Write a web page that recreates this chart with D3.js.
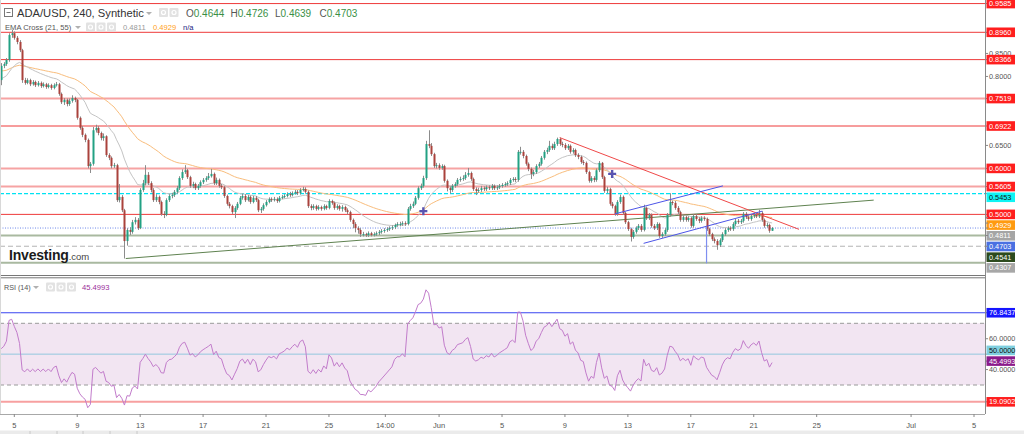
<!DOCTYPE html>
<html><head><meta charset="utf-8">
<script src="https://cdn.jsdelivr.net/npm/d3@7"></script>
<style>
html,body{margin:0;padding:0;background:#fff;}
svg{display:block;font-family:"Liberation Sans",Arial,sans-serif;}
</style></head><body>
<svg id="c" width="1024" height="434"></svg>
<script>
// ================= DATA =================
const symbolTitle = "ADA/USD, 240, Synthetic";
const firstCandleTime = "2022-05-04T04:00";
const candleHours = 4;
const firstOpen = 0.792;
const close = [
0.823,0.827,0.836,0.890,0.894,0.884,0.875,0.857,0.792,0.786,
0.792,0.783,0.788,0.781,0.786,0.779,0.783,0.777,0.781,0.775,
0.781,0.783,0.762,0.744,0.749,0.740,0.747,0.753,0.749,0.710,
0.688,0.673,0.662,0.605,0.610,0.683,0.688,0.677,0.666,0.670,
0.629,0.623,0.605,0.607,0.531,0.538,0.509,0.442,0.466,0.462,
0.483,0.488,0.470,0.553,0.568,0.586,0.568,0.553,0.531,0.538,
0.527,0.501,0.499,0.531,0.540,0.542,0.549,0.557,0.579,0.592,
0.596,0.581,0.562,0.566,0.557,0.562,0.570,0.575,0.579,0.583,
0.588,0.568,0.575,0.562,0.559,0.540,0.523,0.518,0.505,0.514,
0.523,0.536,0.540,0.531,0.538,0.527,0.536,0.531,0.509,0.512,
0.520,0.527,0.533,0.531,0.533,0.529,0.536,0.538,0.540,0.544,
0.542,0.546,0.549,0.546,0.553,0.555,0.549,0.518,0.514,0.518,
0.512,0.516,0.512,0.518,0.514,0.529,0.525,0.514,0.518,0.512,
0.516,0.509,0.505,0.488,0.479,0.470,0.466,0.457,0.457,0.455,
0.459,0.455,0.457,0.459,0.462,0.464,0.466,0.468,0.470,0.472,
0.477,0.479,0.479,0.481,0.479,0.512,0.518,0.523,0.536,0.557,
0.562,0.579,0.653,0.649,0.631,0.605,0.607,0.601,0.605,0.573,
0.557,0.553,0.562,0.566,0.575,0.577,0.579,0.586,0.590,0.577,
0.555,0.551,0.553,0.557,0.555,0.559,0.557,0.562,0.557,0.559,
0.562,0.564,0.566,0.568,0.575,0.577,0.575,0.636,0.636,0.627,
0.610,0.599,0.588,0.592,0.605,0.610,0.623,0.636,0.640,0.649,
0.644,0.653,0.664,0.653,0.651,0.644,0.649,0.636,0.640,0.629,
0.625,0.614,0.612,0.592,0.573,0.579,0.575,0.596,0.612,0.581,
0.551,0.555,0.523,0.518,0.501,0.527,0.538,0.503,0.483,0.468,
0.451,0.462,0.470,0.475,0.466,0.514,0.492,0.499,0.475,0.470,
0.479,0.453,0.457,0.466,0.499,0.527,0.525,0.514,0.505,0.488,
0.494,0.488,0.492,0.475,0.496,0.490,0.486,0.492,0.490,0.468,
0.457,0.446,0.442,0.433,0.444,0.457,0.466,0.470,0.468,0.479,
0.486,0.483,0.486,0.501,0.494,0.490,0.496,0.499,0.496,0.503,
0.488,0.475,0.477,0.4644,0.4703];
const high = [
0.829,0.831,0.840,0.894,0.901,0.898,0.888,0.879,0.860,0.797,
0.796,0.795,0.792,0.791,0.790,0.789,0.787,0.786,0.785,0.784,
0.785,0.788,0.786,0.765,0.753,0.752,0.752,0.759,0.756,0.751,
0.713,0.692,0.676,0.665,0.614,0.690,0.695,0.692,0.680,0.676,
0.672,0.633,0.626,0.612,0.610,0.566,0.542,0.512,0.470,0.472,
0.488,0.494,0.492,0.557,0.575,0.607,0.592,0.572,0.557,0.544,
0.541,0.530,0.507,0.535,0.544,0.547,0.553,0.562,0.583,0.598,
0.607,0.599,0.584,0.571,0.569,0.566,0.574,0.579,0.583,0.590,
0.599,0.591,0.580,0.578,0.566,0.562,0.543,0.527,0.521,0.518,
0.527,0.540,0.545,0.544,0.542,0.541,0.540,0.540,0.534,0.516,
0.524,0.531,0.537,0.537,0.538,0.537,0.540,0.542,0.544,0.548,
0.549,0.550,0.553,0.553,0.557,0.560,0.559,0.552,0.522,0.522,
0.521,0.520,0.519,0.522,0.521,0.533,0.532,0.528,0.522,0.521,
0.520,0.519,0.513,0.508,0.491,0.483,0.474,0.470,0.462,0.460,
0.463,0.462,0.461,0.463,0.466,0.468,0.470,0.472,0.474,0.476,
0.480,0.483,0.484,0.485,0.485,0.516,0.523,0.528,0.540,0.561,
0.567,0.584,0.660,0.683,0.655,0.634,0.612,0.611,0.609,0.608,
0.576,0.561,0.566,0.570,0.579,0.582,0.585,0.592,0.601,0.593,
0.580,0.559,0.558,0.562,0.561,0.563,0.563,0.566,0.565,0.563,
0.566,0.568,0.570,0.572,0.579,0.581,0.581,0.640,0.647,0.640,
0.630,0.613,0.602,0.597,0.609,0.614,0.627,0.640,0.645,0.660,
0.654,0.658,0.667,0.667,0.658,0.655,0.653,0.652,0.644,0.643,
0.633,0.628,0.618,0.615,0.595,0.583,0.583,0.600,0.616,0.614,
0.584,0.560,0.558,0.527,0.521,0.531,0.543,0.541,0.506,0.486,
0.471,0.466,0.474,0.479,0.479,0.521,0.517,0.503,0.502,0.479,
0.483,0.482,0.461,0.470,0.503,0.546,0.530,0.529,0.518,0.508,
0.498,0.497,0.496,0.495,0.500,0.500,0.494,0.496,0.496,0.493,
0.471,0.460,0.450,0.446,0.448,0.461,0.470,0.474,0.474,0.483,
0.490,0.490,0.490,0.505,0.505,0.498,0.500,0.503,0.503,0.510,
0.507,0.491,0.482,0.480,0.4726];
const low = [
0.781,0.818,0.823,0.832,0.884,0.880,0.870,0.853,0.786,0.782,
0.783,0.779,0.780,0.777,0.778,0.775,0.776,0.773,0.774,0.771,
0.772,0.778,0.758,0.740,0.738,0.735,0.736,0.743,0.744,0.706,
0.684,0.668,0.657,0.600,0.590,0.606,0.678,0.672,0.661,0.660,
0.625,0.618,0.600,0.601,0.527,0.526,0.505,0.404,0.432,0.455,
0.458,0.478,0.466,0.468,0.549,0.563,0.564,0.548,0.527,0.527,
0.522,0.497,0.492,0.496,0.527,0.535,0.538,0.545,0.553,0.575,
0.588,0.577,0.558,0.557,0.553,0.553,0.558,0.566,0.571,0.575,
0.580,0.564,0.564,0.558,0.555,0.536,0.519,0.513,0.501,0.492,
0.510,0.520,0.532,0.527,0.528,0.523,0.524,0.527,0.505,0.503,
0.508,0.517,0.524,0.527,0.528,0.525,0.526,0.533,0.535,0.537,
0.538,0.539,0.543,0.542,0.543,0.550,0.545,0.514,0.509,0.510,
0.508,0.509,0.508,0.509,0.510,0.511,0.521,0.510,0.510,0.508,
0.506,0.505,0.500,0.484,0.470,0.461,0.458,0.451,0.452,0.451,
0.451,0.452,0.452,0.453,0.455,0.458,0.460,0.462,0.464,0.466,
0.468,0.473,0.474,0.475,0.475,0.476,0.508,0.514,0.520,0.532,
0.553,0.558,0.575,0.644,0.627,0.601,0.600,0.597,0.597,0.569,
0.550,0.545,0.549,0.558,0.562,0.571,0.573,0.575,0.582,0.573,
0.551,0.542,0.547,0.549,0.551,0.551,0.553,0.553,0.553,0.553,
0.555,0.558,0.560,0.562,0.564,0.571,0.570,0.571,0.630,0.622,
0.606,0.594,0.577,0.583,0.588,0.601,0.606,0.619,0.631,0.636,
0.640,0.640,0.649,0.649,0.646,0.640,0.640,0.632,0.632,0.625,
0.620,0.610,0.607,0.588,0.569,0.569,0.570,0.571,0.592,0.577,
0.547,0.546,0.519,0.513,0.497,0.497,0.523,0.499,0.479,0.464,
0.441,0.447,0.458,0.466,0.462,0.463,0.488,0.488,0.471,0.466,
0.466,0.449,0.449,0.453,0.462,0.495,0.520,0.510,0.501,0.484,
0.484,0.484,0.484,0.471,0.471,0.486,0.481,0.482,0.486,0.464,
0.453,0.442,0.437,0.423,0.429,0.440,0.453,0.462,0.464,0.464,
0.475,0.479,0.479,0.482,0.490,0.486,0.486,0.492,0.492,0.492,
0.484,0.471,0.471,0.460,0.4639];

// indicator settings and seeds read from the left edge
const emaPeriods = [21, 55];
const emaStart = [0.795, 0.812];
const emaLastValues = [0.4811, 0.4929];
const rsiPeriod = 14;
const rsiSeed = {gain: 0.0028, loss: 0.0045};
const rsiLast = 45.4993;

// horizontal levels
const redLevels = [0.9585, 0.8960, 0.8366, 0.6922, 0.5000];
const pinkLevels = [0.7519, 0.6000, 0.5605];
const cyanLevel = 0.5453;
const currentPrice = 0.4703;
const greenLevels = [0.4541, 0.3950];
const grayLevel = 0.4307;

// drawn trendlines [time, price]
const greenTrend = [["2022-05-12T02:00", 0.404], ["2022-06-28T15:00", 0.531]];
const redTrend = [["2022-06-08T16:00", 0.667], ["2022-06-23T21:00", 0.4675]];
const channelUpper = [["2022-06-12T04:00", 0.501], ["2022-06-19T01:00", 0.562]];
const channelLower = [["2022-06-14T00:00", 0.437], ["2022-06-21T13:00", 0.507]];
const verticalMark = [["2022-06-18T00:00", 0.4732], ["2022-06-18T00:00", 0.3935]];
const crossMarks = [["2022-05-31T00:00", 0.507], ["2022-06-12T00:00", 0.588]];

// RSI levels
const rsiUpper = 76.8437, rsiLower = 19.0902;
const rsiBand = [30, 70];
const rsiMid = 50;

// ticks
const priceTicks = [0.40,0.45,0.50,0.55,0.60,0.65,0.70,0.75,0.80,0.85,0.90,0.95];
const rsiTicks = [20,40,60,80];
const xTickTimes = ["2022-05-05T00:00","2022-05-09T00:00","2022-05-13T00:00","2022-05-17T00:00","2022-05-21T00:00","2022-05-25T00:00","2022-05-28T14:00","2022-06-01T00:00","2022-06-05T00:00","2022-06-09T00:00","2022-06-13T00:00","2022-06-17T00:00","2022-06-21T00:00","2022-06-25T00:00","2022-07-01T00:00","2022-07-05T00:00"];
const xTickLabels = ["5","9","13","17","21","25","14:00","Jun","5","9","13","17","21","25","Jul","5"];

// ================= CHART =================
const parse = d3.timeParse("%Y-%m-%dT%H:%M");
const fmt4 = d3.format(".4f");
const svg = d3.select("#c");
const AX = 985;           // right price axis
const MAIN_B = 277, RSI_T = 281, RSI_B = 414;
const FONT = "'Liberation Sans',Arial,sans-serif";

const x = d3.scaleTime().domain([parse("2022-05-05T00:00"), parse("2022-07-05T00:00")]).range([14.3, 974]);
const y = d3.scaleLinear().domain([0.36381, 0.96625]).range([MAIN_B, 0]);
const yR = d3.scaleLinear().domain([30, 70]).range([385, 323.3]);

const t0 = parse(firstCandleTime);
const N = close.length;
const candles = d3.range(N).map(i => {
  const o = i === 0 ? firstOpen : close[i-1];
  const c = close[i];
  return {t: d3.timeHour.offset(t0, candleHours*i), o, c,
          h: Math.max(high[i], o, c), l: Math.min(low[i], o, c)};
});

// EMAs
const emas = emaPeriods.map((p, k) => {
  const a = 2/(p+1); let e = emaStart[k];
  return candles.map((d, i) => { if (i > 0) e = e + a*(d.c - e); return {t: d.t, v: e}; });
});
// RSI (Wilder)
let ag = rsiSeed.gain, al = rsiSeed.loss;
const rsi = candles.map(d => {
  const ch = d.c - d.o;
  ag = (ag*(rsiPeriod-1) + Math.max(ch,0))/rsiPeriod;
  al = (al*(rsiPeriod-1) + Math.max(-ch,0))/rsiPeriod;
  return {t: d.t, v: 100 - 100/(1 + ag/al)};
});

const defs = svg.append("defs");
defs.append("clipPath").attr("id","cm").append("rect").attr("x",0).attr("y",0).attr("width",AX).attr("height",MAIN_B);
defs.append("clipPath").attr("id","cr").append("rect").attr("x",0).attr("y",RSI_T).attr("width",AX).attr("height",RSI_B-RSI_T);

const main = svg.append("g").attr("clip-path","url(#cm)");
const hline = (g, v, stroke, w, dash) => g.append("line").attr("x1",0).attr("x2",AX)
  .attr("y1",y(v)).attr("y2",y(v)).attr("stroke",stroke).attr("stroke-width",w)
  .attr("stroke-dasharray",dash||null);

pinkLevels.forEach(v => hline(main, v, "#f6a3a3", 2));
redLevels.forEach(v => hline(main, v, "#ee3a3a", 1));
hline(main, cyanLevel, "#00e2f2", 1.3, "4,2");
greenLevels.forEach(v => hline(main, v, "#a9b9a0", 2));
hline(main, grayLevel, "#b4b4b4", 1, "5,3");
hline(main, currentPrice, "#6c88ea", 1, "1,1.5");

// EMA lines
const lineGen = d3.line().x(d => x(d.t)).y(d => y(d.v));
main.append("path").datum(emas[1]).attr("d", lineGen).attr("fill","none").attr("stroke","#f9bd7c").attr("stroke-width",1);
main.append("path").datum(emas[0]).attr("d", lineGen).attr("fill","none").attr("stroke","#c4c4c4").attr("stroke-width",1);

// green trendline (behind candles)
const segLine = d3.line().x(d => x(parse(d[0]))).y(d => y(d[1]));
main.append("path").attr("d", segLine(greenTrend)).attr("stroke","#5f8250").attr("stroke-width",1).attr("fill","none");

// candles
const cg = main.append("g");
cg.selectAll("line.w").data(candles).join("line").attr("class","w")
  .attr("x1", d => Math.round(x(d.t))+0.5).attr("x2", d => Math.round(x(d.t))+0.5)
  .attr("y1", d => y(d.h)).attr("y2", d => y(d.l)).attr("stroke","#8c8c8c").attr("stroke-width",1);
cg.selectAll("rect").data(candles).join("rect")
  .attr("x", d => Math.round(x(d.t))-0.5).attr("width", 2)
  .attr("y", d => y(Math.max(d.o,d.c)))
  .attr("height", d => Math.max(1, Math.abs(y(d.o)-y(d.c))))
  .attr("fill", d => d.c >= d.o ? "#22a184" : "#aa423c");

// drawn tools
main.append("path").attr("d", segLine(redTrend)).attr("stroke","#f04848").attr("stroke-width",1).attr("fill","none");
main.append("path").attr("d", segLine(channelUpper)).attr("stroke","#4d55e8").attr("stroke-width",1).attr("fill","none");
main.append("path").attr("d", segLine(channelLower)).attr("stroke","#4d55e8").attr("stroke-width",1).attr("fill","none");
main.append("path").attr("d", segLine(verticalMark)).attr("stroke","#7f8ff0").attr("stroke-width",1.2).attr("fill","none");
crossMarks.forEach(c => {
  const cx = x(parse(c[0])), cy = y(c[1]);
  main.append("path").attr("d", `M${cx-4},${cy}H${cx+4}M${cx},${cy-4}V${cy+4}`)
    .attr("stroke","#5a54b0").attr("stroke-width",2.4);
});

// logo
const logo = svg.append("text").attr("x",9).attr("y",260).attr("font-family",FONT);
logo.append("tspan").text("Investing").attr("font-size",14).attr("font-weight","bold").attr("fill","#1b1b1b").attr("letter-spacing",-0.2);
logo.append("tspan").text(".com").attr("font-size",9.5).attr("fill","#444");

// ===== RSI pane =====
const rp = svg.append("g").attr("clip-path","url(#cr)");
rp.append("rect").attr("x",0).attr("width",AX).attr("y",yR(rsiBand[1])).attr("height",yR(rsiBand[0])-yR(rsiBand[1])).attr("fill","#f2e5f2");
const rline = (v, stroke, w, dash) => rp.append("line").attr("x1",0).attr("x2",AX).attr("y1",yR(v)).attr("y2",yR(v))
  .attr("stroke",stroke).attr("stroke-width",w).attr("stroke-dasharray",dash||null);
rline(rsiBand[1], "#9a9a9a", 1, "4,3");
rline(rsiBand[0], "#9a9a9a", 1, "4,3");
rline(rsiMid, "#94c8df", 1);
rline(rsiUpper, "#3a46f0", 1.2);
rline(rsiLower, "#f7a0a0", 2);
rp.append("path").datum(rsi).attr("d", d3.line().x(d => x(d.t)).y(d => yR(d.v)))
  .attr("fill","none").attr("stroke","#c27ccb").attr("stroke-width",1);

// separators / axes
svg.append("line").attr("x1",0).attr("x2",AX).attr("y1",275.5).attr("y2",275.5).attr("stroke","#777");
svg.append("line").attr("x1",0).attr("x2",AX).attr("y1",277.8).attr("y2",277.8).attr("stroke","#777");
svg.append("line").attr("x1",AX+0.5).attr("x2",AX+0.5).attr("y1",0).attr("y2",RSI_B).attr("stroke","#8a8a8a");
svg.append("line").attr("x1",0).attr("x2",AX).attr("y1",RSI_B+0.5).attr("y2",RSI_B+0.5).attr("stroke","#a8a8a8");
svg.append("line").attr("x1",0.5).attr("x2",0.5).attr("y1",0).attr("y2",RSI_B).attr("stroke","#d8d8d8");

// x axis
const xt = svg.append("g");
xTickTimes.forEach((s, i) => {
  const px = x(parse(s));
  xt.append("line").attr("x1",px).attr("x2",px).attr("y1",RSI_B).attr("y2",RSI_B+3).attr("stroke","#888");
  xt.append("text").attr("x",px).attr("y",427.5).attr("text-anchor","middle").attr("font-size",7.5)
    .attr("font-family",FONT).attr("fill","#555").text(xTickLabels[i]);
});
// bottom strip
svg.append("rect").attr("x",0).attr("y",430.5).attr("width",1024).attr("height",4).attr("fill","#ebebeb");
[30,57,83,110,137].forEach(px => svg.append("line").attr("x1",px).attr("x2",px).attr("y1",431).attr("y2",434).attr("stroke","#c8c8c8"));

// ===== price labels =====
function resolve(items, gap, dir) {
  const s = items.slice().sort((a,b) => dir > 0 ? a.ny - b.ny : b.ny - a.ny);
  s.forEach((d,i) => { d.py = d.ny; if (i>0) {
    const p = s[i-1].py;
    if (dir > 0 && d.py < p + gap) d.py = p + gap;
    if (dir < 0 && d.py > p - gap) d.py = p - gap;
  }});
  return s;
}
const mainLabels = [
  ...redLevels.map(v => ({v, bg:"#ff1e1e", fg:"#fff"})),
  ...pinkLevels.map(v => ({v, bg:"#ff1e1e", fg:"#fff"})),
  {v: cyanLevel, bg:"#10f4f4", fg:"#111"},
  {v: emaLastValues[1], bg:"#ff9a10", fg:"#fff"},
  {v: emaLastValues[0], bg:"#a5a5a5", fg:"#fff"},
  {v: currentPrice, bg:"#4a70e2", fg:"#fff"},
  {v: greenLevels[0], bg:"#2c4a1d", fg:"#fff"},
  {v: grayLevel, bg:"#a7a7a7", fg:"#fff"}
].map(d => ({...d, ny: y(d.v)}));
const placedMain = resolve(mainLabels, 10.7, 1);

const rsiLabels = [
  {v: rsiUpper, bg:"#1515ff", fg:"#fff"},
  {v: rsiMid, bg:"#7fcfdf", fg:"#111"},
  {v: rsiLast, bg:"#8b1b8b", fg:"#fff"},
  {v: rsiLower, bg:"#ff1e1e", fg:"#fff"}
].map(d => ({...d, ny: yR(d.v)}));
const placedRsi = resolve(rsiLabels, 10.7, -1);

const ax = svg.append("g").attr("font-family",FONT).attr("font-size",7.3);
function tickLabels(ticks, scale, fmt, placed, lo, hi) {
  ticks.forEach(t => {
    const py = scale(t);
    if (py < lo || py > hi) return;
    if (placed.some(p => Math.abs(p.py - py) < 6)) return;
    ax.append("line").attr("x1",AX).attr("x2",AX+3).attr("y1",py).attr("y2",py).attr("stroke","#888");
    ax.append("text").attr("x",989).attr("y",py).attr("dy","0.35em").attr("fill","#555").text(fmt(t));
  });
}
tickLabels(priceTicks, y, fmt4, placedMain, 2, MAIN_B-4);
tickLabels(rsiTicks, yR, fmt4, placedRsi, RSI_T+2, RSI_B-3);

function drawBoxes(placed) {
  placed.forEach(d => {
    ax.append("line").attr("x1",AX).attr("x2",AX+3).attr("y1",d.ny).attr("y2",d.ny).attr("stroke","#888");
    ax.append("rect").attr("x",986.5).attr("y",d.py-4.8).attr("width",28.5).attr("height",9.6).attr("fill",d.bg);
    ax.append("text").attr("x",989).attr("y",d.py).attr("dy","0.35em").attr("fill",d.fg).text(fmt4(d.v));
  });
}
drawBoxes(placedMain);
drawBoxes(placedRsi);

// ===== headers =====
const hd = svg.append("g").attr("font-family",FONT);
function icons(x0, yy, n) {
  for (let k=0;k<n;k++) {
    hd.append("rect").attr("x",x0+k*10.5).attr("y",yy).attr("width",9).attr("height",9).attr("fill","#e2e2e2").attr("rx",1);
    hd.append("circle").attr("cx",x0+k*10.5+4.5).attr("cy",yy+4.5).attr("r",2).attr("fill","none").attr("stroke","#fff").attr("stroke-width",1.2);
  }
}
function caret(x0, yy) {
  hd.append("path").attr("d",`M${x0},${yy}l3,3l3,-3z`).attr("fill","#b0b0b0");
}
hd.append("rect").attr("x",4.5).attr("y",8.5).attr("width",8).attr("height",8).attr("fill","none").attr("stroke","#777");
hd.append("line").attr("x1",6.5).attr("x2",10.5).attr("y1",12.5).attr("y2",12.5).attr("stroke","#777");
hd.append("text").attr("x",17).attr("y",17.3).attr("font-size",11.2).attr("fill","#333").text(symbolTitle);
caret(146, 12);
icons(159, 8, 2);
const last = candles[N-1];
const ohlc = [["O", last.o], ["H", last.h], ["L", last.l], ["C", last.c]];
const upCol = last.c >= last.o ? "#3a8f46" : "#b03a3a";
ohlc.forEach((p, k) => {
  const t = hd.append("text").attr("x",186 + k*44.5).attr("y",17.3).attr("font-size",10);
  t.append("tspan").attr("fill","#555").text(p[0]);
  t.append("tspan").attr("fill",upCol).text(fmt4(p[1]));
});
hd.append("text").attr("x",5).attr("y",30).attr("font-size",7.6).attr("fill","#555").text(`EMA Cross (${emaPeriods[0]}, ${emaPeriods[1]})`);
caret(75, 26);
icons(86, 22.5, 3);
hd.append("text").attr("x",123).attr("y",30).attr("font-size",7.6).attr("fill","#999").text(fmt4(emaLastValues[0]));
hd.append("text").attr("x",153).attr("y",30).attr("font-size",7.6).attr("fill","#ffa020").text(fmt4(emaLastValues[1]));
hd.append("text").attr("x",183).attr("y",30).attr("font-size",7.6).attr("fill","#1a237e").text("n/a");

hd.append("text").attr("x",4).attr("y",290).attr("font-size",7.2).attr("fill","#555").text(`RSI (${rsiPeriod})`);
caret(33, 286);
icons(46, 282.5, 3);
hd.append("text").attr("x",82).attr("y",290).attr("font-size",7.6).attr("fill","#9a2f9a").text(fmt4(rsiLast));
</script>
</body></html>
